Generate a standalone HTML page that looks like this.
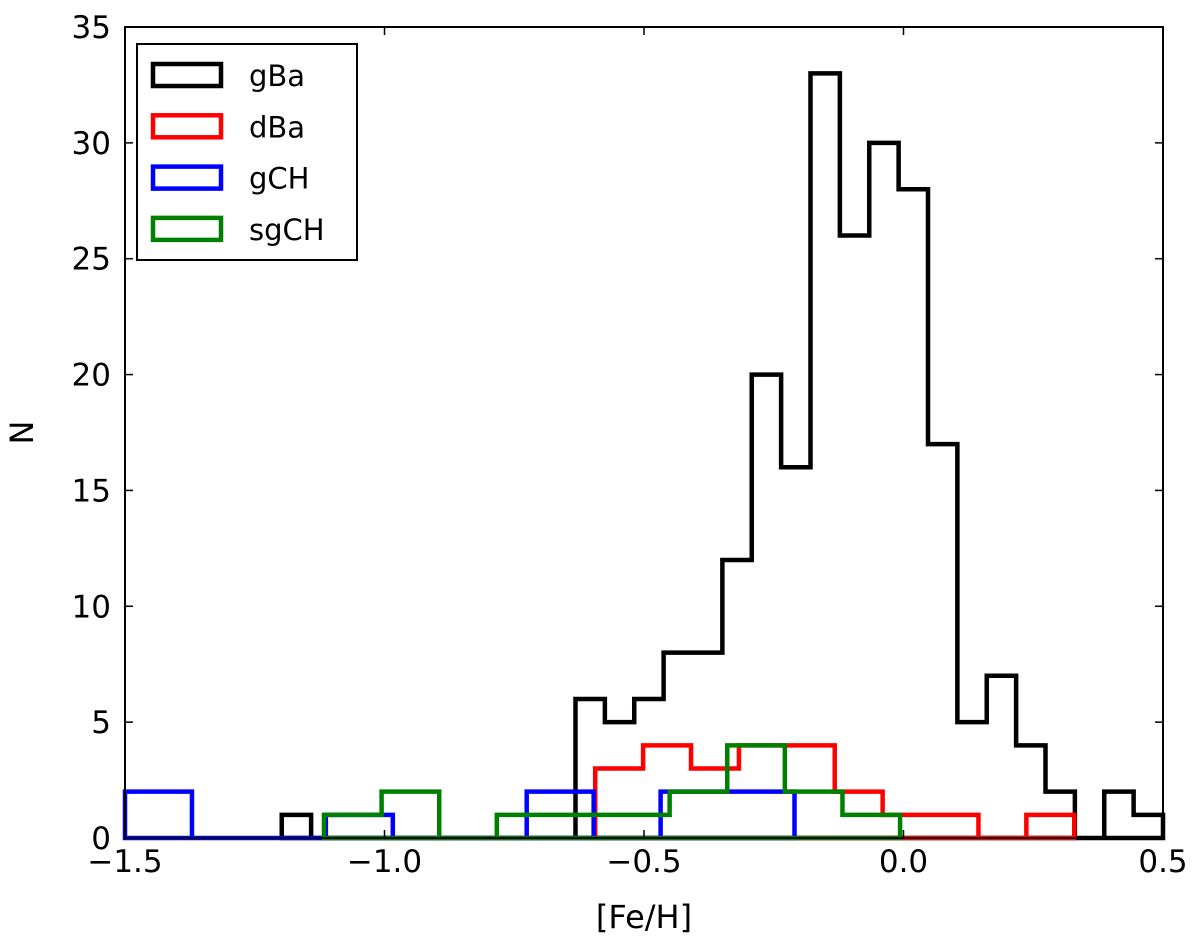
<!DOCTYPE html>
<html><head><meta charset="utf-8"><style>
html,body{margin:0;padding:0;background:#fff}
svg text{font-family:"DejaVu Sans","Liberation Sans",sans-serif}
</style></head><body>
<svg id="chart" width="1200" height="943" viewBox="0 0 1200 943" xmlns="http://www.w3.org/2000/svg"></svg>
<script>
const xTicks=[-1.5,-1.0,-0.5,0.0,0.5];
const xTickLabels=["\u22121.5","\u22121.0","\u22120.5","0.0","0.5"];
const yTicks=[0,5,10,15,20,25,30,35];
const gBaStart=-1.198, gBaWidth=0.0566;
const gBaCounts=[1,0,0,0,0,0,0,0,0,0,6,5,6,8,8,12,20,16,33,26,30,28,17,5,7,4,2,0,2,1];
const dBaStart=-0.594, dBaWidth=0.0923;
const dBaCounts=[3,4,3,4,4,2,1,1,0,1];
const gCHStart=-1.5, gCHWidth=0.129;
const gCHCounts=[2,0,0,1,0,0,2,0,2,2];
const sgCHStart=-1.1166, sgCHWidth=0.111;
const sgCHCounts=[1,2,0,1,1,1,2,4,2,1];
const seriesNames=["gBa","dBa","gCH","sgCH"];
const seriesColors=["#000000","#ff0000","#0000ff","#008000"];

const L=125,R=1163,T=27,B=838;
const xS=v=>L+(v-(-1.5))/2*(R-L);
const yS=v=>B-v/35*(B-T);
const svg=document.getElementById('chart');
const NS='http://www.w3.org/2000/svg';
function mk(tag,attrs,parent){const e=document.createElementNS(NS,tag);for(const k in attrs)e.setAttribute(k,attrs[k]);(parent||svg).appendChild(e);return e;}

function hist(start,w,counts,color,name){
  let d='M'+xS(start)+','+yS(0);
  counts.forEach((c,i)=>{const x0=xS(start+i*w),x1=xS(start+(i+1)*w);d+=' L'+x0+','+yS(c)+' L'+x1+','+yS(c);});
  d+=' L'+xS(start+counts.length*w)+','+yS(0)+' Z';
  const p=mk('path',{d:d,fill:'none',stroke:color,'stroke-width':4.5,'stroke-linejoin':'miter'});
  
  
}
hist(gBaStart,gBaWidth,gBaCounts,seriesColors[0],'gba-histogram');
hist(dBaStart,dBaWidth,dBaCounts,seriesColors[1],'dba-histogram');
hist(gCHStart,gCHWidth,gCHCounts,seriesColors[2],'gch-histogram');
hist(sgCHStart,sgCHWidth,sgCHCounts,seriesColors[3],'sgch-histogram');

const frame=mk('rect',{x:L,y:T,width:R-L,height:B-T,fill:'none',stroke:'#000','stroke-width':2});



xTicks.forEach((v,i)=>{
  const x=xS(v);
  mk('line',{x1:x,y1:B,x2:x,y2:B-8,stroke:'#000','stroke-width':1.5});
  mk('line',{x1:x,y1:T,x2:x,y2:T+8,stroke:'#000','stroke-width':1.5});
  const t=mk('text',{x:x,y:B+34,'text-anchor':'middle','font-size':31,fill:'#000'});
  t.textContent=xTickLabels[i];
  
  
});
yTicks.forEach(v=>{
  const y=yS(v);
  mk('line',{x1:L,y1:y,x2:L+8,y2:y,stroke:'#000','stroke-width':1.5});
  mk('line',{x1:R,y1:y,x2:R-8,y2:y,stroke:'#000','stroke-width':1.5});
  const t=mk('text',{x:L-14,y:y+11,'text-anchor':'end','font-size':31,fill:'#000'});
  t.textContent=String(v);
  
  
});
const xt=mk('text',{x:(L+R)/2,y:928,'text-anchor':'middle','font-size':32,fill:'#000'});
xt.textContent='[Fe/H]';


const yt=mk('text',{x:0,y:0,'text-anchor':'middle','font-size':32,fill:'#000',transform:'translate(33,'+((T+B)/2)+') rotate(-90)'});
yt.textContent='N';



const lg=mk('g',{});


mk('rect',{x:137,y:44,width:220,height:216,fill:'#fff',stroke:'#000','stroke-width':2},lg);
seriesNames.forEach((n,i)=>{
  const y=62+i*51.3;
  const g=mk('g',{},lg);
  
  
  mk('rect',{x:153,y:y+2,width:68,height:22,fill:'none',stroke:seriesColors[i],'stroke-width':4.5},g);
  const t=mk('text',{x:249,y:y+24,'font-size':29,fill:'#000'},g);
  t.textContent=n;
});
</script>
</body></html>
